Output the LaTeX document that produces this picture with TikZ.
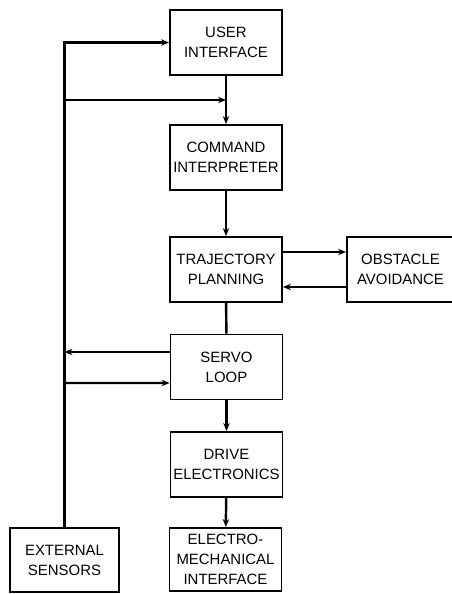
\documentclass[tikz,border=0pt]{standalone}
\usepackage{fontspec}
\setmainfont{Liberation Sans}
\usepackage{tikz}
\usetikzlibrary{arrows.meta, calc, positioning}

\begin{document}
\begin{tikzpicture}[
    block/.style={draw, line width=1.1pt, minimum width=2.24cm, minimum height=1.3cm,
      align=center, inner sep=1pt, font=\fontsize{8.5}{11.3}\selectfont},
    link/.style={line width=1.4pt, -{Stealth[length=4.5pt, width=3.6pt]}},
    wire/.style={line width=1.4pt}
  ]
  \useasboundingbox (0,0) rectangle (9.04,-11.88);
  % Main chain
  \node[block] (ui)  at (4.52,-0.85)  {USER\\INTERFACE};
  \node[block] (ci)  at (4.52,-3.15)  {COMMAND\\INTERPRETER};
  \node[block] (tp)  at (4.52,-5.39)  {TRAJECTORY\\PLANNING};
  \node[block, minimum width=2.14cm] (oa) at (8.01,-5.39) {OBSTACLE\\AVOIDANCE};
  \node[block] (sl)  at (4.53,-7.34)  {SERVO\\LOOP};
  \node[block] (de)  at (4.53,-9.29)  {DRIVE\\ELECTRONICS};
  \node[block, minimum height=1.26cm] (emi) at (4.51,-11.19) {ELECTRO-\\MECHANICAL\\INTERFACE};
  \node[block, minimum width=2.18cm, minimum height=1.28cm] (es) at (1.29,-11.2) {EXTERNAL\\SENSORS};
  % Junction below the user interface
  \coordinate (join) at ($(ui.south)+(0,-0.48)$);
  % Vertical flow
  \draw[wire] (ui) -- (join);
  \draw[link] (join) -- (ci);
  \draw[link] (ci) -- (tp);
  \draw[wire] (tp) -- (sl);
  \draw[link] (sl) -- (de);
  \draw[link] (de) -- (emi);
  % Obstacle avoidance loop
  \draw[link] ([yshift=0.35cm]tp.east) -- ([yshift=0.35cm]oa.west);
  \draw[link] ([yshift=-0.35cm]oa.west) -- ([yshift=-0.35cm]tp.east);
  % Sensor feedback
  \draw[link] (es.north) |- (ui.west);
  \draw[link] (es.north |- join) -- (join);
  \draw[link] ([yshift=0.3cm]sl.west) -- (es.north |- {$(sl.west)+(0,0.3)$});
  \draw[link] (es.north |- {$(sl.west)+(0,-0.32)$}) -- ([yshift=-0.32cm]sl.west);
\end{tikzpicture}
\end{document}
